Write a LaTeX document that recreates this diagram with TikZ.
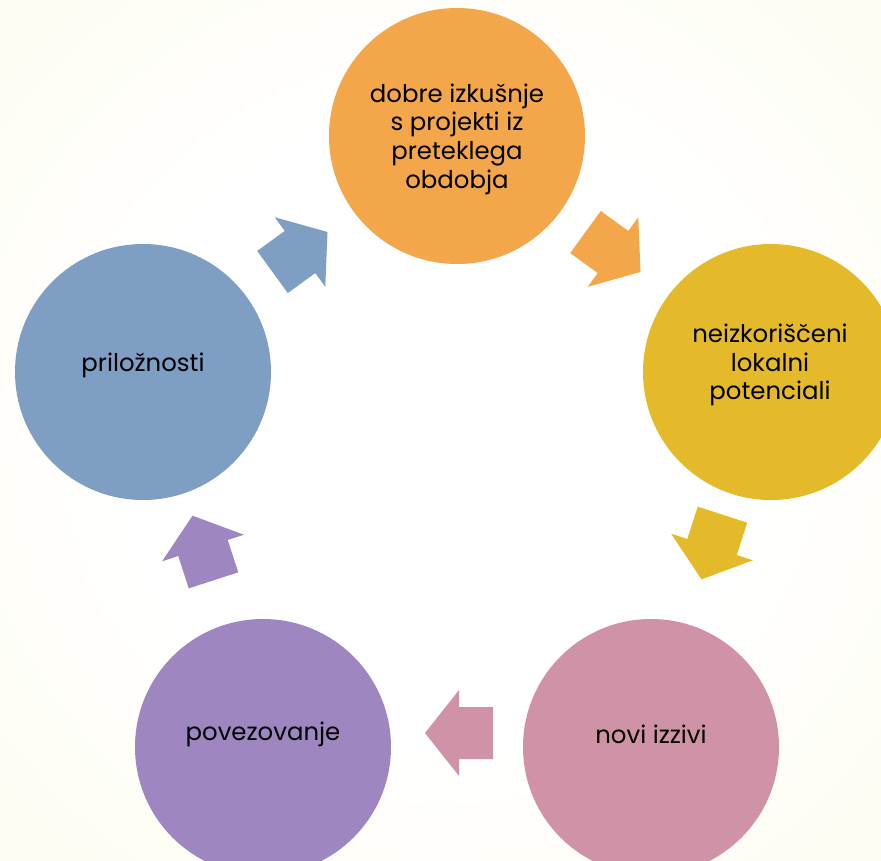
\documentclass[tikz,border=0pt]{standalone}
\usepackage{fontspec}
\setmainfont{Poppins}
\definecolor{bgyellow}{RGB}{252,248,214}
\definecolor{corange}{RGB}{243,166,74}
\definecolor{cyellow}{RGB}{228,186,43}
\definecolor{cpink}{RGB}{208,146,167}
\definecolor{cpurple}{RGB}{158,134,192}
\definecolor{cblue}{RGB}{127,158,195}
\pgfdeclareradialshading{bgshade}{\pgfpoint{0bp}{0bp}}{color(0bp)=(white); color(18bp)=(white); color(71bp)=(bgyellow)}
\tikzset{
  bubble/.style={circle, minimum size=256pt, inner sep=0pt, draw=none},
  lbl/.style={align=center, inner sep=0pt, text=black, font=\fontsize{24.4}{28.7}\selectfont},
  blockarrow/.pic={\fill[#1] (-34,-26) -- (0,-26) -- (0,-43) -- (34,0) -- (0,43) -- (0,26) -- (-34,26) -- cycle;}
}
\begin{document}
\begin{tikzpicture}[x=1pt,y=-1pt]
\shade[shading=bgshade] (0,0) rectangle (881,860);
\useasboundingbox (0,0) rectangle (881,860);
\clip (0,0) rectangle (881,860);
% circles
\node[bubble, fill=corange] (c1) at (457,136) {};
\node[bubble, fill=cyellow] (c2) at (771,372) {};
\node[bubble, fill=cpink] (c3) at (651,747) {};
\node[bubble, fill=cpurple] (c4) at (263,747) {};
\node[bubble, fill=cblue] (c5) at (143,372) {};
% labels
\node[lbl] (t1) at (457,139) {dobre izkušnje\\s projekti iz\\preteklega\\obdobja};
\node[lbl] (t2) at (770,365) {neizkoriščeni\\lokalni\\potenciali};
\node[lbl] (t3) at (651,734) {novi izzivi};
\node[lbl] (t4) at (263,734) {povezovanje};
\node[lbl] (t5) at (143,365) {priložnosti};
% block arrows
\pic[rotate=-36] at (613,252) {blockarrow=corange};
\pic[rotate=-108] at (712,547) {blockarrow=cyellow};
\pic[rotate=180] at (459,733) {blockarrow=cpink};
\pic[rotate=108] at (203,548) {blockarrow=cpurple};
\pic[rotate=36] at (300,252) {blockarrow=cblue};
\end{tikzpicture}
\end{document}
